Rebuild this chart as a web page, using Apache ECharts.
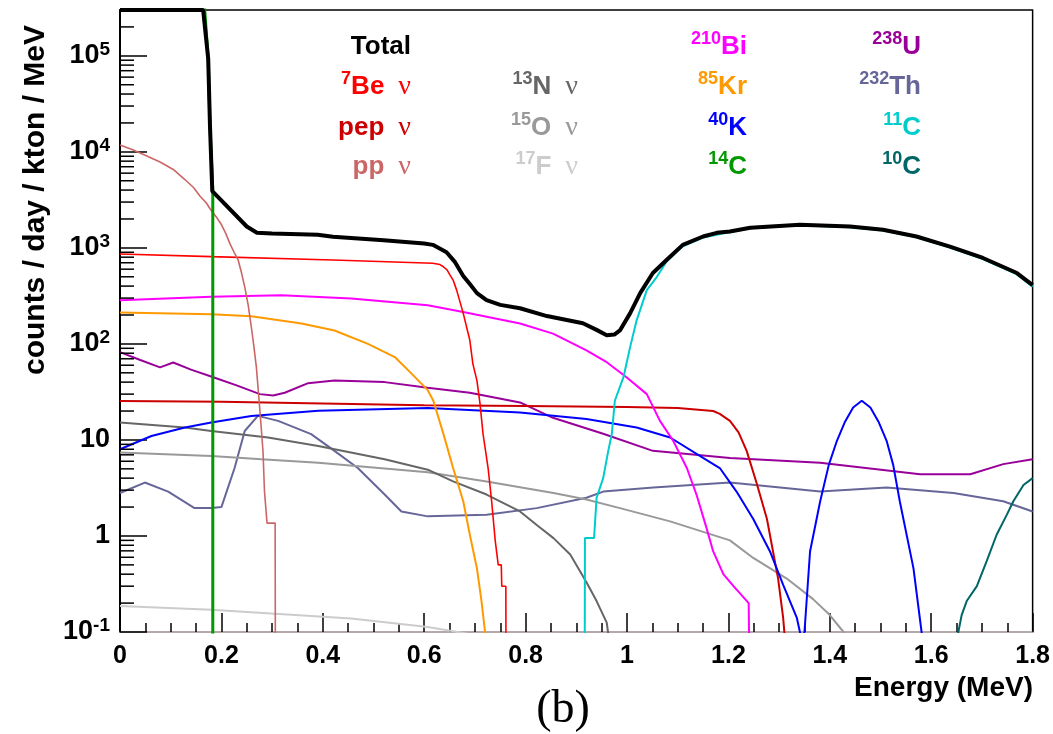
<!DOCTYPE html>
<html><head><meta charset="utf-8">
<script src="https://cdn.jsdelivr.net/npm/echarts@6/dist/echarts.min.js"></script>
<style>html,body{margin:0;padding:0;background:#fff}#c{width:1053px;height:734px}</style>
</head><body><div id="c"></div>
<script>
// ---- data: [Energy (MeV), counts/day/kton/MeV] ----
const total = [[0,3e5],[0.164,3e5],[0.174,9.3e4],[0.1775,1.85e4],[0.182,3.9e3],[0.250,1670],[0.270,1440],[0.30,1410],[0.39,1368],[0.42,1303],[0.52,1200],[0.60,1110],[0.617,1075],[0.644,900],[0.66,720],[0.677,510],[0.69,420],[0.704,338],[0.723,285],[0.75,255],[0.789,235],[0.842,195],[0.913,164],[0.94,140],[0.960,123],[0.975,125],[0.986,138],[1.006,208],[1.026,338],[1.051,547],[1.078,748],[1.110,1075],[1.150,1313],[1.177,1435],[1.203,1482],[1.243,1620],[1.341,1741],[1.44,1670],[1.505,1542],[1.571,1313],[1.637,1032],[1.702,785],[1.769,547],[1.80,410]];
const be7 = [[0,865],[0.18,811],[0.42,748],[0.617,692],[0.631,670],[0.637,640],[0.645,590],[0.651,521],[0.657,462],[0.664,363],[0.677,208],[0.690,109],[0.696,62],[0.704,41.5],[0.710,24],[0.716,11.6],[0.726,5.1],[0.733,2.3],[0.740,0.9],[0.746,0.5],[0.752,0.5],[0.753,0.3],[0.761,0.3],[0.762,0.001]];
const pep = [[0,25.5],[0.2,25],[0.4,24],[0.6,23],[0.8,22.5],[1.0,22],[1.1,21.5],[1.17,20],[1.183,18.7],[1.203,15.8],[1.22,12],[1.236,7.7],[1.256,3.5],[1.276,1.5],[1.288,0.69],[1.298,0.36],[1.308,0.14],[1.315,0.05]];
const pp = [[0,11800],[0.025,10500],[0.053,9040],[0.08,7800],[0.105,6560],[0.128,5150],[0.145,4250],[0.158,3450],[0.170,2950],[0.180,2450],[0.19,2100],[0.2,1750],[0.209,1400],[0.217,1100],[0.225,900],[0.233,748],[0.240,540],[0.246,393],[0.253,250],[0.259,150],[0.264,95],[0.269,57],[0.276,20],[0.282,7.7],[0.285,2.9],[0.29,1.36],[0.306,1.36],[0.307,0.001]];
const n13 = [[0,15.2],[0.128,13.5],[0.18,12.4],[0.292,10.6],[0.391,8.65],[0.522,6.3],[0.607,4.9],[0.657,3.7],[0.723,2.7],[0.789,1.8],[0.822,1.3],[0.855,0.95],[0.888,0.64],[0.920,0.33],[0.940,0.21],[0.960,0.125],[0.965,0.08]];
const o15 = [[0,7.4],[0.18,6.8],[0.279,6.3],[0.391,5.8],[0.607,4.6],[0.723,3.7],[0.855,2.8],[0.920,2.4],[0.986,1.95],[1.085,1.42],[1.203,0.9],[1.249,0.59],[1.315,0.36],[1.367,0.22],[1.400,0.15],[1.427,0.1],[1.435,0.07]];
const f17 = [[0,0.187],[0.18,0.17],[0.298,0.156],[0.456,0.138],[0.607,0.113],[0.657,0.102],[0.69,0.095]];
const bi210 = [[0,285],[0.18,309],[0.318,322],[0.456,297],[0.607,253],[0.677,215],[0.789,163],[0.854,128],[0.920,85.5],[0.960,64.5],[0.999,45],[1.039,30],[1.065,15.8],[1.091,9.8],[1.118,5.1],[1.137,2.7],[1.157,1.2],[1.17,0.69],[1.19,0.4],[1.21,0.3],[1.24,0.2],[1.245,0.001]];
const kr85 = [[0,212],[0.18,204],[0.259,194],[0.358,163],[0.423,138],[0.489,100],[0.542,73],[0.575,49],[0.607,33],[0.618,25.6],[0.638,11.5],[0.657,5.1],[0.677,2.3],[0.690,1.03],[0.704,0.46],[0.713,0.21],[0.72,0.1],[0.722,0.001]];
const k40 = [[0,8],[0.062,11],[0.128,13.5],[0.18,15.2],[0.259,17.8],[0.391,20.1],[0.607,21.5],[0.789,19.3],[0.920,16.5],[1.019,13.5],[1.085,10.6],[1.15,6.5],[1.183,5.1],[1.216,2.9],[1.249,1.5],[1.282,0.69],[1.308,0.31],[1.335,0.14],[1.345,0.08],[1.350,0.1],[1.361,0.69],[1.381,2.3],[1.398,5.5],[1.414,9.8],[1.430,15.5],[1.446,21.8],[1.463,25.6],[1.48,21.8],[1.496,15.5],[1.512,9.8],[1.525,5.5],[1.538,2.3],[1.565,0.46],[1.581,0.1],[1.585,0.05]];
const c14 = [[0,1e6],[0.160,1e6],[0.174,9.3e4],[0.1775,1.85e4],[0.183,3.9e3],[0.183,0.001]];
const u238 = [[0,82],[0.04,68],[0.079,57],[0.105,64],[0.14,54],[0.184,45],[0.23,37],[0.276,30],[0.302,29],[0.325,31],[0.371,39],[0.423,41.5],[0.522,40],[0.607,35],[0.690,31],[0.789,24.6],[0.854,17],[0.953,11.6],[1.051,7.7],[1.203,6.5],[1.381,5.8],[1.578,4.4],[1.677,4.4],[1.742,5.6],[1.80,6.3]];
const th232 = [[0,2.8],[0.049,3.6],[0.095,2.9],[0.147,1.95],[0.18,1.95],[0.20,2.0],[0.226,5.1],[0.246,12.4],[0.272,17.8],[0.312,15.8],[0.377,11.5],[0.423,7.7],[0.469,5.1],[0.522,2.7],[0.555,1.8],[0.607,1.6],[0.723,1.66],[0.822,1.95],[0.920,2.5],[0.953,2.9],[1.052,3.2],[1.203,3.6],[1.381,2.9],[1.512,3.2],[1.644,2.8],[1.742,2.3],[1.80,1.8]];
const c11 = [[0.916,0.001],[0.917,0.95],[0.935,0.95],[0.940,2.5],[0.953,4.0],[0.963,7.7],[0.970,11.5],[0.976,25.6],[0.993,45],[1.006,92],[1.019,176],[1.039,363],[1.059,500],[1.078,720],[1.110,1040],[1.150,1280],[1.203,1460],[1.243,1600],[1.341,1720],[1.440,1640],[1.505,1515],[1.571,1290],[1.637,1010],[1.702,765],[1.769,530],[1.80,395]];
const c10 = [[1.65,0.08],[1.66,0.15],[1.67,0.21],[1.69,0.3],[1.709,0.54],[1.729,1.03],[1.749,1.66],[1.762,2.3],[1.782,3.4],[1.80,4.0]];

// ---- axis ticks ----
const xTicks = [0,0.2,0.4,0.6,0.8,1,1.2,1.4,1.6,1.8];
const yDecades = [0.1,1,10,100,1000,1e4,1e5];
const yMin = 0.1, yMax = 3e5;
const yMinor = [];
yDecades.forEach(d => { for (let m = 2; m <= 9; m++) { const v = m*d; if (v <= yMax) yMinor.push(v); } });

const FONT = '"Liberation Sans", Arial, sans-serif';
const SERIF = '"Liberation Serif", "DejaVu Serif", serif';

const seriesDefs = [
  {name:'238U', data:u238, color:'#990099', w:2},
  {name:'232Th', data:th232, color:'#666699', w:2},
  {name:'17F', data:f17, color:'#cccccc', w:2},
  {name:'15O', data:o15, color:'#999999', w:2},
  {name:'13N', data:n13, color:'#666666', w:2},
  {name:'pep', data:pep, color:'#cc0000', w:2},
  {name:'40K', data:k40, color:'#0000ff', w:2},
  {name:'85Kr', data:kr85, color:'#ff9900', w:2},
  {name:'210Bi', data:bi210, color:'#ff00ff', w:2},
  {name:'7Be', data:be7, color:'#ff0000', w:1.6},
  {name:'pp', data:pp, color:'#cc6666', w:1.6},
  {name:'11C', data:c11, color:'#00cccc', w:2},
  {name:'10C', data:c10, color:'#006666', w:2},
  {name:'14C', data:c14, color:'#009900', w:3},
  {name:'Total', data:total, color:'#000000', w:4, noclip:true}
];

const legendItems = [
  {col:0,row:0,sup:'',main:'Total',nu:false,color:'#000000'},
  {col:0,row:1,sup:'7',main:'Be',nu:true,color:'#ff0000'},
  {col:0,row:2,sup:'',main:'pep',nu:true,color:'#cc0000'},
  {col:0,row:3,sup:'',main:'pp',nu:true,color:'#cc6666'},
  {col:1,row:1,sup:'13',main:'N',nu:true,color:'#666666'},
  {col:1,row:2,sup:'15',main:'O',nu:true,color:'#999999'},
  {col:1,row:3,sup:'17',main:'F',nu:true,color:'#cccccc'},
  {col:2,row:0,sup:'210',main:'Bi',nu:false,color:'#ff00ff'},
  {col:2,row:1,sup:'85',main:'Kr',nu:false,color:'#ff9900'},
  {col:2,row:2,sup:'40',main:'K',nu:false,color:'#0000ff'},
  {col:2,row:3,sup:'14',main:'C',nu:false,color:'#009900'},
  {col:3,row:0,sup:'238',main:'U',nu:false,color:'#990099'},
  {col:3,row:1,sup:'232',main:'Th',nu:false,color:'#666699'},
  {col:3,row:2,sup:'11',main:'C',nu:false,color:'#00cccc'},
  {col:3,row:3,sup:'10',main:'C',nu:false,color:'#006666'}
];
const colRight = [411, 578, 747, 921];
const rowY = [47, 87, 128, 167];

const chart = echarts.init(document.getElementById('c'), null, {renderer:'canvas'});

const series = seriesDefs.map(s => ({
  type:'line', name:s.name, data:s.data, showSymbol:false, symbol:'none',
  clip: !s.noclip, smooth:false, animation:false,
  lineStyle:{color:s.color, width:s.w}, itemStyle:{color:s.color}, z:2
}));
series.unshift({
  type:'custom', coordinateSystem:'cartesian2d', silent:true, animation:false, z:3,
  data: yMinor.map(v => [0, v]), encode:{x:0, y:1},
  renderItem: (p, api) => {
    const c = api.coord([api.value(0), api.value(1)]);
    return {type:'line', shape:{x1:c[0], y1:c[1], x2:c[0]+14, y2:c[1]}, style:{stroke:'#000', lineWidth:1.5}};
  }
});

const graphics = legendItems.map(it => {
  let t = '';
  if (it.sup) t += '{s|' + it.sup + '}';
  t += '{m|' + it.main + '}';
  if (it.nu) t += '{n|  \u03BD}';
  return {
    type:'text', x: colRight[it.col], y: rowY[it.row], z:10,
    style:{
      text:t, textAlign:'right', textVerticalAlign:'middle', fill:it.color,
      rich:{
        s:{fontSize:18, fontWeight:'bold', fontFamily:FONT, fill:it.color, verticalAlign:'top', lineHeight:18},
        m:{fontSize:26, fontWeight:'bold', fontFamily:FONT, fill:it.color, lineHeight:34},
        n:{fontSize:28, fontFamily:SERIF, fill:it.color, lineHeight:34}
      }
    }
  };
});
graphics.push({type:'text', x:36, y:200, rotation:Math.PI/2, z:10,
  style:{text:'counts / day / kton / MeV', font:'bold 30px ' + FONT, fill:'#000', textAlign:'center', textVerticalAlign:'middle'}});
graphics.push({type:'text', x:1033, y:688, z:10,
  style:{text:'Energy (MeV)', font:'bold 28px ' + FONT, fill:'#000', textAlign:'right', textVerticalAlign:'middle'}});
graphics.push({type:'text', x:563, y:710, z:10,
  style:{text:'(b)', font:'46px ' + SERIF, fill:'#000', textAlign:'center', textVerticalAlign:'middle'}});

chart.setOption({
  animation:false,
  backgroundColor:'#ffffff',
  grid:{left:120, right:20, top:10, bottom:102, show:true, borderColor:'#000', borderWidth:1.5, backgroundColor:'transparent'},
  xAxis:{
    type:'value', min:xTicks[0], max:xTicks[xTicks.length-1], interval:0.2,
    axisLine:{show:true, onZero:false, lineStyle:{color:'#b4a8a8', width:2}},
    axisTick:{show:true, inside:true, length:19, lineStyle:{color:'#000', width:1.5}},
    minorTick:{show:true, splitNumber:4, length:9, lineStyle:{color:'#000', width:1.5}},
    axisLabel:{margin:12, fontSize:25, fontWeight:'bold', fontFamily:FONT, color:'#000',
      formatter: v => String(Math.round(v*10)/10)},
    splitLine:{show:false}
  },
  yAxis:{
    type:'log', logBase:10, min:yMin, max:yMax, interval:1,
    axisLine:{show:true, lineStyle:{color:'#000', width:2}},
    axisTick:{show:true, inside:true, length:27, lineStyle:{color:'#000', width:1.5}},
    axisLabel:{margin:10, showMaxLabel:false, color:'#000',
      formatter: v => {
        const e = Math.round(Math.log10(v));
        if (Math.abs(Math.log10(v) - e) > 1e-6) return '';
        if (e === 0) return '{b|1}';
        if (e === 1) return '{b|10}';
        return '{b|10}{s|' + e + '}';
      },
      rich:{
        b:{fontSize:27, fontWeight:'bold', fontFamily:FONT, color:'#000', lineHeight:32},
        s:{fontSize:19, fontWeight:'bold', fontFamily:FONT, color:'#000', verticalAlign:'top', lineHeight:18}
      }
    },
    splitLine:{show:false}
  },
  graphic: graphics,
  series: series
});
</script>
</body></html>
